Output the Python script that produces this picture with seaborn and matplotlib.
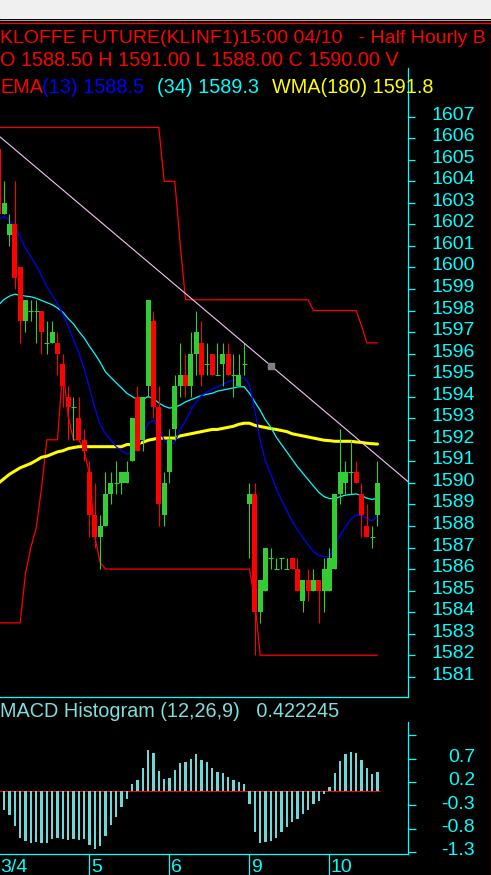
import matplotlib
matplotlib.use("Agg")
import matplotlib.pyplot as plt
import matplotlib.transforms as mtransforms
from matplotlib.patches import Rectangle
from matplotlib.lines import Line2D
import seaborn as sns
import numpy as np

# ==============================
# dados (barras de meia hora, indice 0..71)
# ==============================
opens = [1605.5, 1602.5, 1601.5, 1602, 1600, 1597.5, 1598, 1598, 1598, 1596.5,
         1596.5, 1596.5, 1595.5, 1594, 1593.5, 1593, 1592, 1590.5, 1588.5, 1587.5,
         1588, 1589.5, 1590, 1590, 1590, 1591, 1594, 1592, 1594.5, 1597.5,
         1593.5, 1588.5, 1590.5, 1592.5, 1594.5, 1595, 1594.5, 1596, 1596.5, 1595.5,
         1596, 1595, 1595.5, 1596, 1595, 1594.5, 1595.5, 1589, 1589.5, 1584,
         1585, 1586.5, 1586, 1586.5, 1586, 1586.5, 1586, 1584.5, 1585.5, 1585,
         1585.5, 1585, 1585, 1586, 1589.5, 1590, 1590.5, 1590.5, 1589.5, 1588,
         1587.5, 1588.5]
highs = [1606, 1604, 1602.5, 1604, 1600, 1598.5, 1598.5, 1598.5, 1598, 1597.5,
         1597.5, 1597, 1596, 1594.5, 1594, 1594, 1592.5, 1591, 1590, 1588.5,
         1590.5, 1590.5, 1591, 1590.5, 1591, 1593, 1594.5, 1594, 1598.5, 1598,
         1594.5, 1590.5, 1592.5, 1595, 1596.5, 1596, 1597, 1598, 1597.5, 1596.5,
         1596, 1596.5, 1596.5, 1596.5, 1596, 1596, 1596.5, 1590, 1590, 1585.5,
         1587, 1587, 1586.5, 1586.5, 1586.5, 1586.5, 1586.5, 1585.5, 1586, 1586,
         1585.5, 1586.5, 1587, 1589.5, 1592.5, 1591, 1592, 1591, 1590, 1589,
         1588, 1591]
lows = [1602.5, 1602.5, 1601, 1599, 1596.5, 1597, 1597.5, 1596.5, 1596, 1596,
        1596.5, 1595, 1593.5, 1592, 1592, 1592, 1591, 1587.5, 1587, 1586,
        1588, 1589, 1589.5, 1589.5, 1590, 1591, 1591.5, 1591.5, 1594, 1593,
        1588, 1588, 1590, 1592, 1594, 1594, 1594, 1595, 1594.5, 1595,
        1595, 1595, 1594.5, 1595, 1594, 1594.5, 1595, 1586.5, 1582, 1583.5,
        1585, 1586, 1586, 1586, 1586, 1586, 1585, 1584, 1584.5, 1585,
        1583.5, 1584, 1585, 1586, 1589, 1589.5, 1589.5, 1590, 1587.5, 1587.5,
        1587, 1588]
closes = [1602.5, 1603, 1602, 1599.5, 1597.5, 1598.5, 1598, 1598, 1597, 1596.5,
          1597, 1596, 1594.5, 1593.5, 1593.5, 1592, 1591.5, 1588.5, 1587.5, 1588,
          1589.5, 1590, 1590, 1590.5, 1590.5, 1593, 1591.5, 1594, 1598.5, 1593.5,
          1589, 1590, 1592, 1594.5, 1595, 1594.5, 1596, 1597, 1595, 1595.5,
          1595, 1595, 1596, 1595, 1595, 1595, 1595.5, 1589.5, 1584, 1585.5,
          1587, 1586.5, 1586, 1586.5, 1586, 1586, 1585, 1585.5, 1585, 1585.5,
          1585, 1586, 1586.5, 1589.5, 1590.5, 1590.5, 1590.5, 1590, 1588.5, 1587.5,
          1587.5, 1590]

ema13 = [1602.23, 1602.38, 1602.18, 1601.83, 1601.44, 1600.89, 1600.5, 1600.1, 1599.61, 1599.11,
         1598.71, 1598.32, 1597.82, 1597.28, 1596.63, 1596.04, 1595.3, 1594.41, 1593.47, 1592.72,
         1592.28, 1591.98, 1591.68, 1591.49, 1591.34, 1591.39, 1591.58, 1592.18, 1592.77, 1592.92,
         1592.57, 1591.98, 1591.78, 1591.88, 1592.48, 1592.87, 1593.37, 1593.76, 1594.06, 1594.21,
         1594.36, 1594.46, 1594.56, 1594.7, 1594.75, 1594.83, 1594.9, 1594.55, 1593.37, 1591.98,
         1591.0, 1590.4, 1589.75, 1589.2, 1588.71, 1588.22, 1587.82, 1587.47, 1587.13, 1586.81,
         1586.63, 1586.58, 1586.58, 1587.08, 1587.57, 1587.97, 1588.32, 1588.52, 1588.47, 1588.37,
         1588.22, 1588.5]
ema34 = [1598.27, 1598.52, 1598.67, 1598.76, 1598.71, 1598.67, 1598.64, 1598.57, 1598.47, 1598.37,
         1598.27, 1598.12, 1597.92, 1597.63, 1597.38, 1597.03, 1596.73, 1596.34, 1595.99, 1595.6,
         1595.15, 1594.9, 1594.65, 1594.41, 1594.16, 1594.01, 1593.86, 1593.86, 1594.01, 1593.91,
         1593.71, 1593.56, 1593.47, 1593.52, 1593.61, 1593.76, 1593.86, 1593.96, 1594.06, 1594.11,
         1594.16, 1594.26, 1594.31, 1594.36, 1594.41, 1594.46, 1594.46, 1594.16, 1593.76, 1593.37,
         1592.92, 1592.58, 1592.13, 1591.78, 1591.44, 1591.09, 1590.75, 1590.45, 1590.15, 1589.85,
         1589.56, 1589.36, 1589.27, 1589.27, 1589.36, 1589.43, 1589.46, 1589.49, 1589.41, 1589.29,
         1589.23, 1589.3]
wma180 = [1590.0, 1590.2, 1590.4, 1590.55, 1590.7, 1590.8, 1590.9, 1591.04, 1591.19, 1591.24,
          1591.34, 1591.44, 1591.49, 1591.59, 1591.64, 1591.68, 1591.68, 1591.68, 1591.68, 1591.68,
          1591.68, 1591.68, 1591.68, 1591.68, 1591.78, 1591.78, 1591.83, 1591.88, 1591.98, 1592.03,
          1592.08, 1592.08, 1592.08, 1592.08, 1592.18, 1592.23, 1592.28, 1592.33, 1592.38, 1592.43,
          1592.48, 1592.48, 1592.53, 1592.58, 1592.63, 1592.72, 1592.77, 1592.77, 1592.67, 1592.62,
          1592.57, 1592.52, 1592.48, 1592.43, 1592.38, 1592.28, 1592.23, 1592.18, 1592.13, 1592.08,
          1592.03, 1591.98, 1591.96, 1591.93, 1591.93, 1591.93, 1591.93, 1591.9, 1591.88, 1591.84,
          1591.82, 1591.8]
upper_band = [1606.5] * 31 + [1604, 1604, 1604, 1601.1] + [1598.5] * 24 + [1598] * 9 + [1597.3, 1596.5, 1596.5, 1596.5]
lower_band = [1583.5] * 5 + [1585.8, 1587.0, 1587.9, 1589.75, 1592, 1592, 1592, 1595.35, 1593.1, 1592, 1592,
              1591.5, 1590.4, 1587.5, 1586.3] + [1586] * 28 + [1584.5] + [1582] * 23

# linha de tendencia (dois pontos de ancoragem)
trend_x = [0, 51]
trend_y = [1606.11, 1595.44]

macd_hist = [-0.33, -0.40, -0.51, -0.74, -1.01, -1.06, -1.11, -1.09, -1.11, -1.11,
             -1.03, -0.99, -1.03, -1.05, -1.03, -1.04, -1.03, -1.16, -1.24, -1.18,
             -0.96, -0.72, -0.54, -0.34, -0.17, 0.15, 0.25, 0.49, 0.89, 0.83,
             0.44, 0.27, 0.29, 0.46, 0.60, 0.62, 0.70, 0.79, 0.68, 0.62,
             0.51, 0.42, 0.40, 0.31, 0.25, 0.19, 0.16, -0.28, -0.88, -1.11,
             -1.09, -1.07, -1.01, -0.88, -0.77, -0.66, -0.60, -0.49, -0.41, -0.28,
             -0.21, -0.06, 0.10, 0.40, 0.64, 0.79, 0.85, 0.83, 0.68, 0.51,
             0.38, 0.42]

price_ticks = list(range(1581, 1608))
macd_ticks = [-1.3, -0.8, -0.3, 0.2, 0.7, 1.2]
macd_tick_labels = ["-1.3", "-0.8", "-0.3", "0.2", "0.7", ""]
day_ticks = [17, 32, 47, 62]
day_labels = ["5", "6", "9", "10"]
first_day_label = "3/4"

# ==============================
# estilo
# ==============================
sns.set_style("dark", {"axes.facecolor": "black", "figure.facecolor": "black"})
plt.rcParams["font.family"] = ["Liberation Sans", "DejaVu Sans"]

W, H = 491, 875
GREEN = "#32cd32"
RED = "#ff0000"
CYAN = "#00ffff"
HIST = "#6dd8d8"


def rect(x0, y0, x1, y1):
    return [x0 / W, 1 - y1 / H, (x1 - x0) / W, (y1 - y0) / H]


fig = plt.figure(figsize=(W / 100, H / 100), dpi=100)
fig.patch.set_facecolor("black")

# barra cinza da janela e bordas vermelhas
fig.patches.append(Rectangle((0, 1 - 19 / H), 1, 19 / H, transform=fig.transFigure,
                             facecolor="#f0f0f0", edgecolor="none"))
fig.lines.append(Line2D([0, 1], [1 - 19.5 / H] * 2, transform=fig.transFigure, color="#a0a0a0", lw=0.8))
fig.lines.append(Line2D([0, 1], [1 - 22.5 / H] * 2, transform=fig.transFigure, color=RED, lw=0.9))
fig.lines.append(Line2D([490.5 / W] * 2, [0, 1 - 47 / H], transform=fig.transFigure, color=RED, lw=0.9))

ax = fig.add_axes(rect(0, 68, 408, 697))
ax2 = fig.add_axes(rect(0, 722, 408, 854))

bars = np.arange(len(opens))
o = np.array(opens)
h = np.array(highs)
l = np.array(lows)
c = np.array(closes)

# ==============================
# painel de precos
# ==============================
sns.lineplot(x=bars, y=upper_band, ax=ax, color=RED, linewidth=0.9, zorder=2)
sns.lineplot(x=bars, y=lower_band, ax=ax, color=RED, linewidth=0.9, zorder=2)
sns.lineplot(x=bars, y=wma180, ax=ax, color="#ffff00", linewidth=2.2, zorder=2)
sns.lineplot(x=bars, y=ema34, ax=ax, color=CYAN, linewidth=0.9, zorder=2)
sns.lineplot(x=bars, y=ema13, ax=ax, color="#0000ff", linewidth=0.9, zorder=2)

cols = np.where(c >= o, GREEN, RED)
ax.vlines(bars, l, h, colors=cols, linewidth=0.8, zorder=3)
body = np.abs(c - o)
solid = body > 0
ax.bar(bars[solid], body[solid], bottom=np.minimum(o, c)[solid], width=0.92,
       color=cols[solid], linewidth=0, zorder=4)
doji = ~solid
ax.hlines(o[doji], bars[doji] - 0.46, bars[doji] + 0.46, colors=cols[doji], linewidth=0.8, zorder=4)

ax.axline((trend_x[0], trend_y[0]), (trend_x[1], trend_y[1]), color="#f4c4f4", linewidth=0.8, zorder=5)
ax.plot(trend_x[1], trend_y[1], marker="s", markersize=4.5, color="#808080", zorder=6)

ax.set_xlim(0.22, 76.72)
ax.set_ylim(1580.06, 1609.26)
ax.set_xticks([])
ax.yaxis.tick_right()
ax.set_yticks(price_ticks)
ax.set_yticklabels([])
ax.tick_params(axis="y", right=True, left=False, colors=CYAN, length=5, width=0.9)
ax.set_xlabel("")
ax.set_ylabel("")

# rotulos de preco, um pouco acima de cada marca
lab_tr = mtransforms.offset_copy(
    mtransforms.blended_transform_factory(ax.transAxes, ax.transData), fig=fig, y=3.5, units="dots")
for p in price_ticks:
    ax.text(475 / 408, p, str(p), transform=lab_tr, color=CYAN, fontsize=14,
            ha="right", va="center_baseline", clip_on=False)

# ==============================
# painel MACD
# ==============================
ax2.hlines(0, bars[0] - 0.5, bars[-1] + 0.5, color=RED, linewidth=0.8, zorder=1)
ax2.bar(bars, macd_hist, width=0.45, color=HIST, linewidth=0, zorder=2)
ax2.set_xlim(0.22, 76.72)
ax2.set_ylim(-1.343, 1.485)
ax2.yaxis.tick_right()
ax2.set_yticks(macd_ticks)
ax2.set_yticklabels([])
ax2.tick_params(axis="y", right=True, left=False, colors=CYAN, length=5.5, width=0.9)
ax2.set_xticks(day_ticks)
ax2.tick_params(axis="x", bottom=True, colors=CYAN, length=15.5, width=0.9, labelbottom=False)

lab_tr2 = mtransforms.offset_copy(
    mtransforms.blended_transform_factory(ax2.transAxes, ax2.transData), fig=fig, y=3, units="dots")
for v, lab in zip(macd_ticks, macd_tick_labels):
    ax2.text(475 / 408, v, lab, transform=lab_tr2, color=CYAN, fontsize=14,
             ha="right", va="center_baseline", clip_on=False)

for a in (ax, ax2):
    a.spines["left"].set_visible(False)
    a.spines["top"].set_visible(False)
    a.spines["right"].set_color(CYAN)
    a.spines["bottom"].set_color(CYAN)
    a.spines["right"].set_linewidth(0.9)
    a.spines["bottom"].set_linewidth(0.9)
    a.grid(False)

# rotulos dos dias
trans = mtransforms.blended_transform_factory(ax2.transData, fig.transFigure)
for d, lab in zip(day_ticks, day_labels):
    ax2.text(d + 0.25, 1 - 871.7 / H, lab, transform=trans, color=CYAN, fontsize=14,
             ha="left", va="baseline", clip_on=False)
fig.text(0.5 / W, 1 - 871.7 / H, first_day_label, color=CYAN, fontsize=14, ha="left", va="baseline")

# ==============================
# textos do cabecalho
# ==============================
fs = 14.3
fig.text(0, 1 - 42.7 / H, "KLOFFE FUTURE(KLINF1)15:00 04/10   - Half Hourly B",
         color=RED, fontsize=14.0, va="baseline")
fig.text(0, 1 - 65.7 / H, "O 1588.50 H 1591.00 L 1588.00 C 1590.00 V",
         color=RED, fontsize=fs, va="baseline")
fig.text(0, 1 - 92.7 / H, "EMA", color=RED, fontsize=fs, va="baseline")
fig.text(42 / W, 1 - 92.7 / H, "(13) 1588.5", color="#0000ff", fontsize=fs, va="baseline")
fig.text(157 / W, 1 - 92.7 / H, "(34) 1589.3", color=CYAN, fontsize=fs, va="baseline")
fig.text(272 / W, 1 - 92.7 / H, "WMA(180) 1591.8", color="#ffff00", fontsize=fs, va="baseline")
fig.text(0, 1 - 717.3 / H, "MACD Histogram (12,26,9)   0.422245",
         color="#80dede", fontsize=fs, va="baseline")

fig.savefig("out.png", dpi=100, facecolor="black")
plt.close()
